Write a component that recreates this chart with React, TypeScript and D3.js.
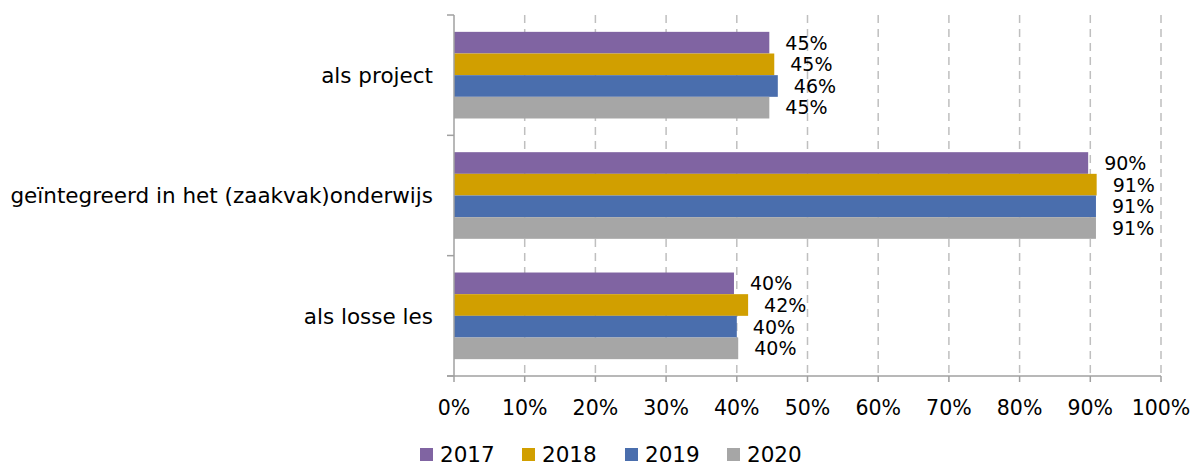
import React, { useRef, useEffect } from 'react';
import * as d3 from 'd3';

const categories = ['als project', 'geïntegreerd in het (zaakvak)onderwijs', 'als losse les'];
const years = ['2017', '2018', '2019', '2020'];
const values2017 = [44.6, 89.7, 39.6];
const values2018 = [45.3, 90.9, 41.6];
const values2019 = [45.8, 90.8, 40.0];
const values2020 = [44.6, 90.8, 40.2];
const xTicks = [0, 10, 20, 30, 40, 50, 60, 70, 80, 90, 100];
const colors = ['#8064A2', '#D19F00', '#4A6EAD', '#A6A6A6'];

const App: React.FC = () => {
  const ref = useRef<SVGSVGElement | null>(null);

  useEffect(() => {
    if (!ref.current) return;
    const width = 1195;
    const height = 465;
    const font = '"DejaVu Sans", Verdana, sans-serif';
    const svg = d3.select(ref.current);
    svg.selectAll('*').remove();
    svg.attr('width', width).attr('height', height);

    const left = 454;
    const right = 1161;
    const top = 15;
    const bottom = 376;

    const x = d3.scaleLinear().domain([0, 100]).range([left, right]);
    const y = d3.scaleBand<string>().domain(categories).range([top, bottom]).paddingInner(0.28).paddingOuter(0.14);
    const series = [values2017, values2018, values2019, values2020];
    const inner = d3.scaleBand<string>().domain(years).range([0, y.bandwidth()]);

    // gridlines
    svg.append('g')
      .selectAll('line')
      .data(xTicks.slice(1))
      .enter()
      .append('line')
      .attr('x1', d => x(d))
      .attr('x2', d => x(d))
      .attr('y1', top)
      .attr('y2', bottom)
      .attr('stroke', '#BFBFBF')
      .attr('stroke-width', 1.5)
      .attr('stroke-dasharray', '8,6');

    // bars
    const groups = svg.append('g');
    categories.forEach((cat, ci) => {
      years.forEach((yr, si) => {
        const v = series[si][ci];
        const by = (y(cat) as number) + (inner(yr) as number);
        groups.append('rect')
          .attr('x', x(0))
          .attr('y', by)
          .attr('width', x(v) - x(0))
          .attr('height', inner.bandwidth())
          .attr('fill', colors[si]);
        groups.append('text')
          .attr('x', x(v) + 16)
          .attr('y', by + inner.bandwidth() / 2)
          .attr('dy', '0.36em')
          .attr('font-family', font)
          .attr('font-size', '19px')
          .attr('fill', '#000')
          .text(`${Math.round(v)}%`);
      });
    });

    // axes
    const axisColor = '#A0A0A0';
    svg.append('line')
      .attr('x1', left).attr('x2', left).attr('y1', top).attr('y2', bottom)
      .attr('stroke', axisColor).attr('stroke-width', 1.5);
    svg.append('line')
      .attr('x1', left - 7).attr('x2', right).attr('y1', bottom).attr('y2', bottom)
      .attr('stroke', axisColor).attr('stroke-width', 1.5);

    const catEdges = [top, ...categories.map((c, i) => top + ((bottom - top) / categories.length) * (i + 1))];
    svg.append('g')
      .selectAll('line')
      .data(catEdges)
      .enter()
      .append('line')
      .attr('x1', left - 7).attr('x2', left)
      .attr('y1', d => d).attr('y2', d => d)
      .attr('stroke', axisColor).attr('stroke-width', 1.5);

    svg.append('g')
      .selectAll('line')
      .data(xTicks)
      .enter()
      .append('line')
      .attr('x1', d => x(d)).attr('x2', d => x(d))
      .attr('y1', bottom).attr('y2', bottom + 6)
      .attr('stroke', axisColor).attr('stroke-width', 1.5);

    svg.append('g')
      .selectAll('text')
      .data(xTicks)
      .enter()
      .append('text')
      .attr('x', d => x(d))
      .attr('y', 408)
      .attr('dy', '0.36em')
      .attr('text-anchor', 'middle')
      .attr('font-family', font)
      .attr('font-size', '20.5px')
      .text(d => `${d}%`);

    svg.append('g')
      .selectAll('text')
      .data(categories)
      .enter()
      .append('text')
      .attr('x', 433)
      .attr('y', d => (y(d) as number) + y.bandwidth() / 2)
      .attr('dy', '0.36em')
      .attr('text-anchor', 'end')
      .attr('font-family', font)
      .attr('font-size', '21.5px')
      .text(d => d);

    // legend
    const legendX = [420, 522, 625, 727];
    const legend = svg.append('g');
    years.forEach((yr, i) => {
      legend.append('rect')
        .attr('x', legendX[i]).attr('y', 448)
        .attr('width', 13).attr('height', 13)
        .attr('fill', colors[i]);
      legend.append('text')
        .attr('x', legendX[i] + 20)
        .attr('y', 454)
        .attr('dy', '0.36em')
        .attr('font-family', font)
        .attr('font-size', '21.5px')
        .text(yr);
    });
  }, []);

  return <svg ref={ref} style={{ display: 'block', position: 'absolute', left: 0, top: 0 }} />;
};

export default App;
